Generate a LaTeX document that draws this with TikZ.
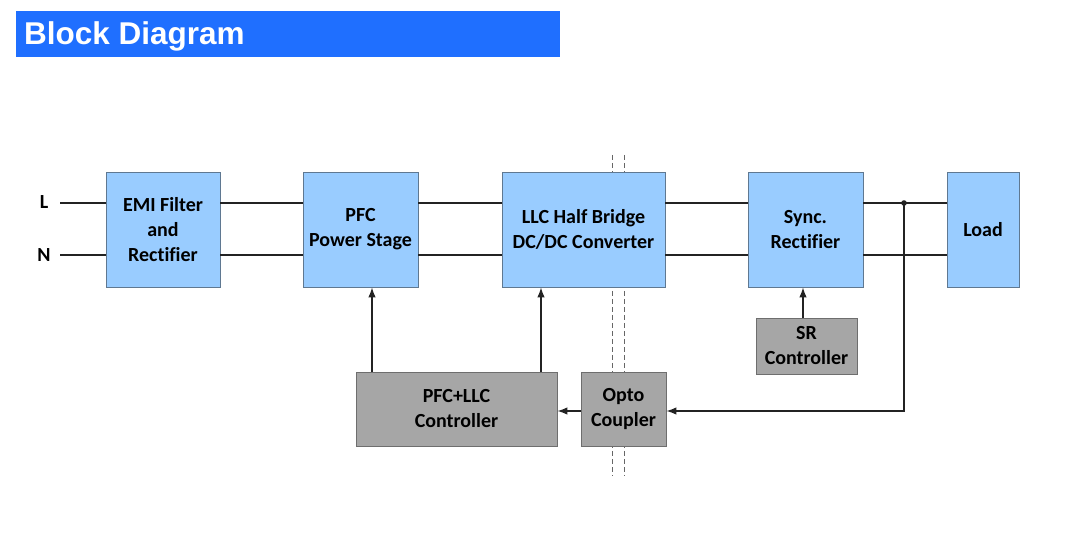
\documentclass[tikz,border=0pt]{standalone}
\usepackage{fontspec}
\setmainfont{Carlito}[Ligatures=NoCommon]
\newfontfamily\titlefont{Liberation Sans}
\usetikzlibrary{arrows.meta}
\definecolor{titleblue}{RGB}{31,111,255}
\definecolor{boxblue}{RGB}{153,204,255}
\definecolor{boxblueedge}{RGB}{95,120,145}
\definecolor{boxgray}{RGB}{166,166,166}
\definecolor{boxgrayedge}{RGB}{110,110,110}
\definecolor{wire}{RGB}{35,35,35}
\tikzset{
  blk/.style={draw=boxblueedge, fill=boxblue, line width=0.9pt, align=center,
    font=\fontsize{20}{25}\selectfont\bfseries, text=black, inner sep=0pt},
  gblk/.style={draw=boxgrayedge, fill=boxgray, line width=0.9pt, align=center,
    font=\fontsize{20}{25}\selectfont\bfseries, text=black, inner sep=0pt},
  wireline/.style={draw=wire, line width=1.3pt},
  arr/.style={wireline, -{Latex[length=10pt,width=7.5pt]}},
  isol/.style={draw=black!60, line width=0.8pt, dash pattern=on 5pt off 3pt},
  lbl/.style={font=\fontsize{20}{25}\selectfont\bfseries, text=black, inner sep=0pt}
}
\begin{document}
\begin{tikzpicture}[x=1pt,y=-1pt]
\useasboundingbox (0,0) rectangle (1080,545);
% title
\node[fill=titleblue, minimum width=544pt, minimum height=46pt, inner sep=0pt, anchor=north west] (title) at (16,11) {};
\node[anchor=west, text=white, font=\titlefont\fontsize{31.5}{34}\selectfont\bfseries, inner sep=0pt] (titletext) at (24,36) {Block Diagram};
% isolation dashed lines
\coordinate (d1t) at (612,155); \coordinate (d1b) at (612,476);
\coordinate (d2t) at (624,155); \coordinate (d2b) at (624,476);
\draw[isol] (d1t) -- (d1b);
\draw[isol] (d2t) -- (d2b);
% blocks
\node[blk, minimum width=114pt, minimum height=115pt] (emi) at (163,229.5) {EMI Filter\\and\\Rectifier};
\node[blk, minimum width=115pt, minimum height=115pt] (pfc) at (360.5,229.5) {PFC\\Power Stage};
\node[blk, minimum width=163pt, minimum height=115pt] (llc) at (583.5,229.5) {LLC Half Bridge\\DC/DC Converter};
\node[blk, minimum width=115pt, minimum height=115pt] (sync) at (805.5,229.5) {Sync.\\Rectifier};
\node[blk, minimum width=72pt, minimum height=115pt] (load) at (983,229.5) {Load};
\node[gblk, minimum width=101pt, minimum height=56pt] (sr) at (806.5,346) {SR\\Controller};
\node[gblk, minimum width=201pt, minimum height=74pt] (ctrl) at (456.5,409) {PFC+LLC\\Controller};
\node[gblk, minimum width=85pt, minimum height=74pt] (opto) at (623.5,409) {Opto\\Coupler};
% inputs
\node[lbl] (L) at (44,202) {L};
\node[lbl] (N) at (44,255) {N};
\coordinate (Lc) at (60,203);
\coordinate (Nc) at (60,255);
\draw[wireline] (Lc) -- (Lc -| emi.west);
\draw[wireline] (Nc) -- (Nc -| emi.west);
% power path
\draw[wireline] (emi.east |- Lc) -- (pfc.west |- Lc);
\draw[wireline] (emi.east |- Nc) -- (pfc.west |- Nc);
\draw[wireline] (pfc.east |- Lc) -- (llc.west |- Lc);
\draw[wireline] (pfc.east |- Nc) -- (llc.west |- Nc);
\draw[wireline] (llc.east |- Lc) -- (sync.west |- Lc);
\draw[wireline] (llc.east |- Nc) -- (sync.west |- Nc);
\draw[wireline] (sync.east |- Lc) -- (load.west |- Lc);
\draw[wireline] (sync.east |- Nc) -- (load.west |- Nc);
% feedback
\coordinate (j) at (904,203);
\coordinate (fb) at (904,411);
\fill[wire] (j) circle (2.8pt);
\draw[arr] (j) -- (fb) -- (fb -| opto.east);
\draw[arr] (opto.west |- fb) -- (ctrl.east |- fb);
% controller outputs
\coordinate (c1) at (372,372);
\coordinate (c2) at (541,372);
\draw[arr] (c1) -- (c1 |- pfc.south);
\draw[arr] (c2) -- (c2 |- llc.south);
\coordinate (s1) at (803,318);
\draw[arr] (s1) -- (s1 |- sync.south);
\end{tikzpicture}
\end{document}
